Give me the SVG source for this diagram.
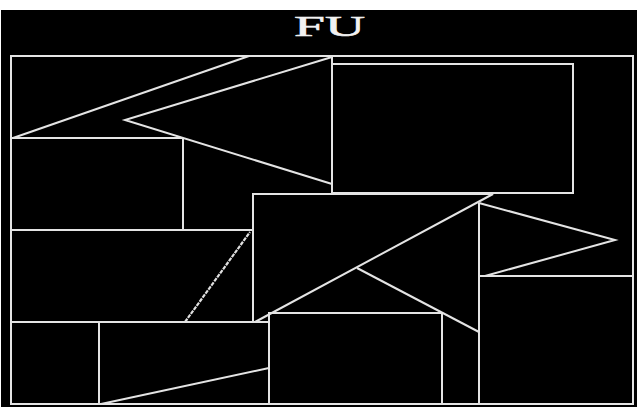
<svg xmlns="http://www.w3.org/2000/svg" width="637" height="407" viewBox="0 0 637 407">
<style>
.s{fill:none;stroke:#e4e4e4;stroke-width:2;stroke-linejoin:miter}
.t{font-family:"Liberation Serif","Times New Roman",serif;font-size:30px;fill:#f2f2f2;stroke:#f2f2f2;stroke-width:0.6}
.j{fill:none;stroke:#e0e0e0;stroke-width:2.2;stroke-dasharray:4 1}
</style>
<rect x="0" y="0" width="637" height="407" fill="#ffffff"/>
<rect x="1" y="10" width="636" height="397" fill="#000000"/>
<text class="t" x="294" y="36" textLength="71" lengthAdjust="spacingAndGlyphs">FU</text>
<g id="frame"><rect class="s" x="11" y="56" width="622" height="348"/></g>
<g id="top-left">
<line class="s" x1="11" y1="138" x2="183" y2="138"/>
<line class="s" x1="13" y1="138" x2="249" y2="56"/>
<polyline class="s" points="332,57 125,120 332,184"/>
<line class="s" x1="332" y1="56" x2="332" y2="194"/>
<line class="s" x1="183" y1="138" x2="183" y2="230"/>
</g>
<g id="top-right"><rect class="s" x="332" y="64" width="241" height="129"/></g>
<g id="middle">
<line class="s" x1="11" y1="230" x2="253" y2="230"/>
<polyline class="s" points="255,322 493,194 253,194 253,322"/>
<line class="j" x1="185" y1="322" x2="250" y2="232"/>
<line class="s" x1="11" y1="322" x2="269" y2="322"/>
<line class="s" x1="357" y1="268" x2="479" y2="332"/>
</g>
<g id="right">
<line class="s" x1="479" y1="203" x2="479" y2="404"/>
<polyline class="s" points="479,203 615,240 485,276"/>
<line class="s" x1="479" y1="276" x2="633" y2="276"/>
</g>
<g id="bottom">
<rect class="s" x="269" y="313" width="173" height="91"/>
<line class="s" x1="99" y1="322" x2="99" y2="404"/>
<line class="s" x1="101" y1="404" x2="269" y2="368"/>
</g>
</svg>
